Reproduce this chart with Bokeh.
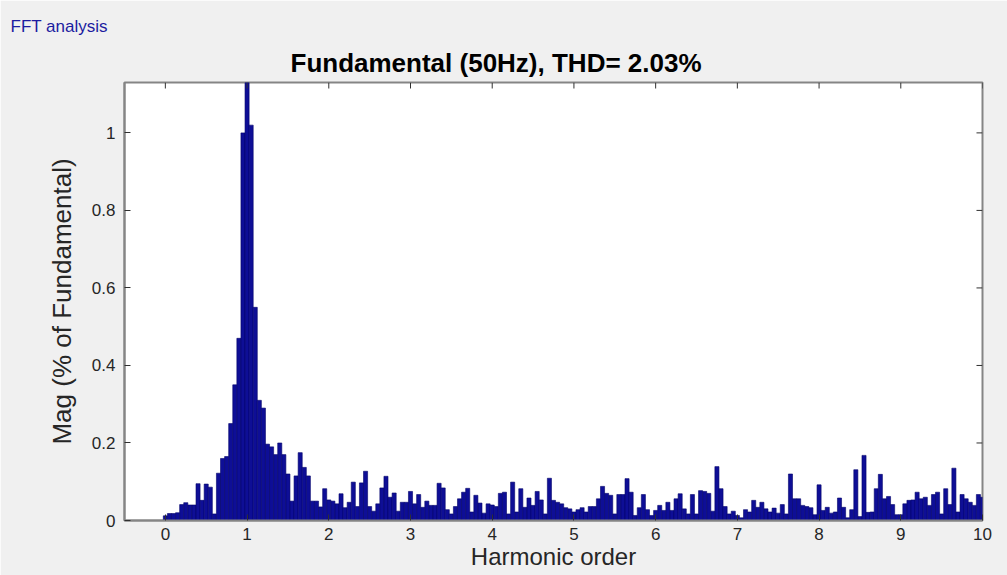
import numpy as np
from bokeh.plotting import figure
from bokeh.models import FixedTicker, Range1d, ColumnDataSource, Title
from bokeh.embed import file_html
from bokeh.resources import INLINE

# ---- data ----
title_text = "Fundamental (50Hz), THD= 2.03%"
x_label = "Harmonic order"
y_label = "Mag (% of Fundamental)"
panel_label = "FFT analysis"

x_ticks = [0, 1, 2, 3, 4, 5, 6, 7, 8, 9, 10]
y_ticks = [0, 0.2, 0.4, 0.6, 0.8, 1.0]
y_tick_labels = ["0", "0.2", "0.4", "0.6", "0.8", "1"]

# harmonic order grid, 0.05 step (2.5 Hz resolution at 50 Hz fundamental)
harmonic = [round(i * 0.05, 2) for i in range(201)]

mag_0 = [0.012, 0.018, 0.018, 0.020, 0.041, 0.046, 0.040, 0.040, 0.095, 0.052,
         0.094, 0.086, 0.017, 0.122, 0.160, 0.165, 0.250, 0.350, 0.470, 1.000]
mag_1 = [100.0, 1.020, 0.550, 0.310, 0.290, 0.197, 0.190, 0.170, 0.200, 0.170,
         0.120, 0.050, 0.115, 0.175, 0.137, 0.115, 0.050, 0.050, 0.035, 0.082]
mag_2 = [0.053, 0.050, 0.043, 0.069, 0.033, 0.047, 0.099, 0.036, 0.097, 0.127,
         0.036, 0.024, 0.043, 0.084, 0.114, 0.060, 0.071, 0.024, 0.047, 0.047]
mag_3 = [0.075, 0.043, 0.067, 0.034, 0.050, 0.039, 0.039, 0.096, 0.084, 0.028,
         0.017, 0.036, 0.056, 0.073, 0.083, 0.022, 0.065, 0.045, 0.019, 0.043]
mag_4 = [0.040, 0.036, 0.070, 0.073, 0.017, 0.099, 0.022, 0.082, 0.034, 0.058,
         0.039, 0.075, 0.053, 0.017, 0.109, 0.052, 0.047, 0.043, 0.033, 0.030]
mag_5 = [0.022, 0.028, 0.033, 0.022, 0.036, 0.036, 0.056, 0.088, 0.070, 0.065,
         0.017, 0.067, 0.067, 0.108, 0.073, 0.013, 0.033, 0.067, 0.028, 0.013]
mag_6 = [0.026, 0.039, 0.026, 0.047, 0.026, 0.056, 0.069, 0.030, 0.017, 0.067,
         0.017, 0.077, 0.075, 0.070, 0.024, 0.139, 0.082, 0.036, 0.017, 0.024]
mag_7 = [0.013, 0.007, 0.028, 0.022, 0.052, 0.034, 0.047, 0.030, 0.022, 0.032,
         0.019, 0.041, 0.017, 0.120, 0.056, 0.056, 0.039, 0.036, 0.033, 0.015]
mag_8 = [0.092, 0.026, 0.034, 0.019, 0.022, 0.058, 0.034, 0.007, 0.028, 0.131,
         0.010, 0.168, 0.021, 0.022, 0.082, 0.119, 0.056, 0.062, 0.041, 0.015]
mag_9 = [0.015, 0.043, 0.052, 0.053, 0.073, 0.056, 0.060, 0.039, 0.067, 0.073,
         0.017, 0.082, 0.041, 0.135, 0.022, 0.067, 0.056, 0.047, 0.039, 0.067]
mag_10 = [0.060]

mag = mag_0 + mag_1 + mag_2 + mag_3 + mag_4 + mag_5 + mag_6 + mag_7 + mag_8 + mag_9 + mag_10

source = ColumnDataSource(dict(harmonic=harmonic, mag=mag))

FONT = "Liberation Sans"
TICK_COLOR = "#262626"
AXIS_COLOR = "#858585"
X_MIN, X_MAX = -0.5, 10
Y_MIN, Y_MAX = 0, 1.13

p = figure(width=1007, height=575, output_backend="svg", toolbar_location=None,
           x_range=Range1d(X_MIN, X_MAX), y_range=Range1d(Y_MIN, Y_MAX),
           min_border_left=124, min_border_right=25, min_border_top=82, min_border_bottom=55,
           tools="")
p.border_fill_color = "#f0f0f0"
p.background_fill_color = "#ffffff"
p.outline_line_color = AXIS_COLOR
p.outline_line_width = 2
p.xgrid.visible = False
p.ygrid.visible = False

p.vbar(x="harmonic", top="mag", width=0.05, source=source,
       fill_color="#0e0e96", line_color="#04046a", line_width=0.6)

# tick marks on the top and right edges of the box (inward, like the left/bottom ones)
tick_dy = 6 / 387.6
tick_dx = 6 / 81.7
p.segment(x0=x_ticks, y0=[Y_MAX] * len(x_ticks), x1=x_ticks, y1=[Y_MAX - tick_dy] * len(x_ticks),
          line_color="#303030", line_width=1)
p.segment(x0=[X_MAX] * len(y_ticks), y0=y_ticks, x1=[X_MAX - tick_dx] * len(y_ticks), y1=y_ticks,
          line_color="#303030", line_width=1)

for ax in (p.xaxis[0], p.yaxis[0]):
    ax.axis_line_color = AXIS_COLOR
    ax.axis_line_width = 2
    ax.major_tick_line_color = "#303030"
    ax.major_tick_line_width = 1
    ax.major_tick_in = 6
    ax.major_tick_out = 0
    ax.minor_tick_line_color = None
    ax.major_label_text_font = FONT
    ax.major_label_text_color = TICK_COLOR
    ax.major_label_text_font_size = "17px"
    ax.axis_label_text_font = FONT
    ax.axis_label_text_color = TICK_COLOR
    ax.axis_label_text_font_style = "normal"

p.xaxis.ticker = FixedTicker(ticks=x_ticks)
p.yaxis.ticker = FixedTicker(ticks=y_ticks)
p.yaxis.major_label_overrides = {t: s for t, s in zip(y_ticks, y_tick_labels)}

p.xaxis.axis_label = x_label
p.xaxis.axis_label_text_font_size = "24px"
p.xaxis.major_label_standoff = 7
p.xaxis.axis_label_standoff = 0

p.yaxis.axis_label = y_label
p.yaxis.axis_label_text_font_size = "26px"
p.yaxis.major_label_standoff = 9
p.yaxis.axis_label_standoff = 12

# outermost title: the panel caption
p.title.text = panel_label
p.title.align = "left"
p.title.offset = -114
p.title.text_font = FONT
p.title.text_font_style = "normal"
p.title.text_font_size = "17px"
p.title.text_color = "#1c1ca0"
p.title.standoff = 9

# title next to the axes box
p.add_layout(Title(text=title_text, align="left", offset=166, text_font=FONT,
                   text_font_style="bold", text_font_size="26px", text_color="#000000",
                   standoff=10), "above")

open("out.html", "w").write(file_html(p, INLINE))
